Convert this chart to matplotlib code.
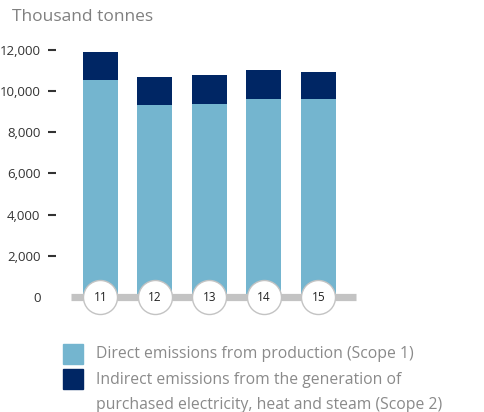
import numpy as np
import matplotlib
matplotlib.use('Agg')
import matplotlib.pyplot as plt
from matplotlib.patches import Rectangle

years = ['11', '12', '13', '14', '15']
scope1 = [10550, 9330, 9380, 9620, 9620]
scope2 = [1350, 1360, 1410, 1410, 1310]
yticks = [0, 2000, 4000, 6000, 8000, 10000, 12000]
legend_lines = ['Direct emissions from production (Scope 1)',
                'Indirect emissions from the generation of',
                'purchased electricity, heat and steam (Scope 2)']

light = '#74b5cf'
dark = '#002664'

plt.rcParams['font.family'] = ['Open Sans', 'DejaVu Sans']

W, H = 484, 412
fig = plt.figure(figsize=(W / 100, H / 100), dpi=100)
ax = fig.add_axes([71 / W, (H - 297) / H, 285 / W, 257.3 / H])

x = np.arange(len(years))
ax.bar(x, scope1, width=0.64, color=light, zorder=2)
ax.bar(x, scope2, width=0.64, bottom=scope1, color=dark, zorder=2)

ax.set_xlim(-0.54, 4.69)
ax.set_ylim(0, 12500)

# grey base line
ax.axhline(0, color='#c3c3c3', lw=5.2, zorder=3, clip_on=False,
           solid_capstyle='butt')

# year circles
ax.scatter(x, [0] * len(x), s=600, facecolor='white', edgecolor='#c3c3c3',
           linewidth=1, zorder=4, clip_on=False)
for xi, yr in zip(x, years):
    ax.text(xi, -40, yr, ha='center', va='center', fontsize=8.5,
            color='#222222', zorder=5, clip_on=False)

for s in ax.spines.values():
    s.set_visible(False)
ax.spines['left'].set_position(('outward', 11))
ax.set_xticks([])
ax.set_yticks(yticks)
ax.set_yticklabels([f'{v:,}' for v in yticks])
ax.tick_params(axis='y', length=6, width=1.5, color='#333333', pad=5,
               labelsize=9.5, labelcolor='#333333')
ax.yaxis.get_major_ticks()[0].tick1line.set_visible(False)

fig.text(12 / W, 1 - 17 / H, 'Thousand tonnes', fontsize=12.5, color='#808080',
         ha='left', va='center')

# legend
fig.patches.append(Rectangle((63 / W, 1 - 364 / H), 20 / W, 20 / H,
                             transform=fig.transFigure, color=light))
fig.patches.append(Rectangle((63 / W, 1 - 389 / H), 20 / W, 20 / H,
                             transform=fig.transFigure, color=dark))
for line, base in zip(legend_lines, [358, 384, 409]):
    fig.text(96 / W, 1 - base / H, line, fontsize=11.3, color='#8a8a8a',
             ha='left', va='baseline')

fig.savefig('out.png', dpi=100)
